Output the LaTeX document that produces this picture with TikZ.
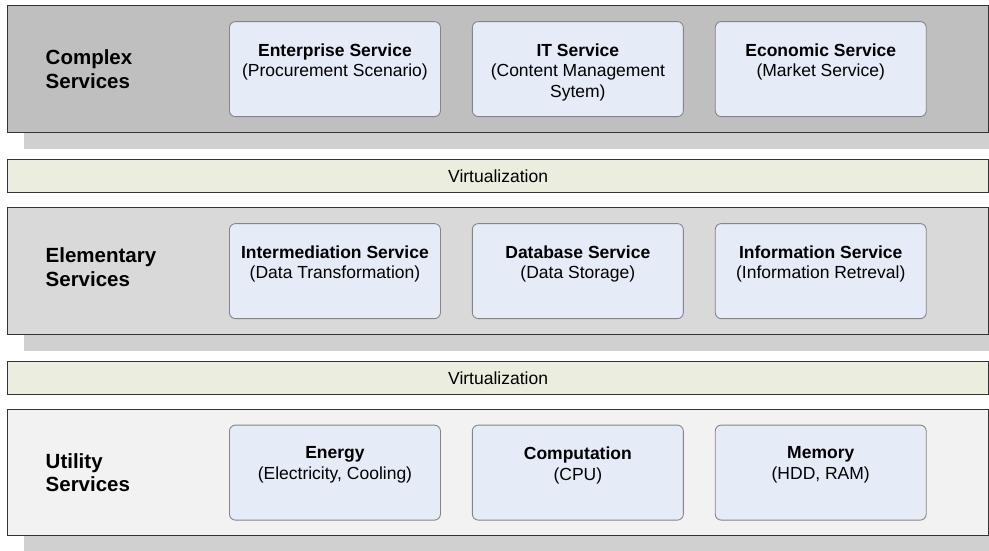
\documentclass[tikz,border=0pt]{standalone}
\usepackage{fontspec}
\setmainfont{Liberation Sans}
\usepackage{tikz}
\usetikzlibrary{positioning,shadows}
\definecolor{cplxgray}{HTML}{BFBFBF}
\definecolor{elemgray}{HTML}{D9D9D9}
\definecolor{utilgray}{HTML}{F2F2F2}
\definecolor{shadegray}{HTML}{D0D0D0}
\definecolor{svcblue}{HTML}{E5EBF7}
\definecolor{virtgreen}{HTML}{EBEDDE}
\definecolor{edge}{HTML}{333333}
\definecolor{svcedge}{HTML}{858585}
\tikzset{
  tier/.style    = {rectangle, draw=edge, line width=1.2pt, minimum width=981pt,
                    minimum height=127pt, inner sep=0pt,
                    drop shadow={shadow xshift=16pt, shadow yshift=-16pt,
                                 fill=shadegray, opacity=1}},
  tierlbl/.style = {align=left, inner sep=0pt, font=\fontsize{20.5}{23.5}\selectfont\bfseries},
  virt/.style    = {rectangle, draw=edge, line width=1.2pt, fill=virtgreen,
                    minimum width=981pt, minimum height=33pt, inner sep=0pt,
                    font=\fontsize{17.5}{20}\selectfont},
  svc/.style     = {rectangle, rounded corners=6pt, draw=svcedge, line width=0.9pt,
                    fill=svcblue, minimum width=211pt, minimum height=95pt, inner sep=0pt},
  svctxt/.style  = {align=center, inner sep=0pt, font=\fontsize{17.5}{20.5}\selectfont},
}

\begin{document}
\begin{tikzpicture}[x=1pt, y=1pt, node distance=31pt]
  \useasboundingbox (0,0) rectangle (989,-550);

  % Complex services (top)
  \node[tier, fill=cplxgray, anchor=north west] (cplx) at (7,-5) {};
  \node[tierlbl, anchor=west] (cplxlbl) at ([xshift=38.5pt]cplx.west) {Complex\\Services};
  \node[svc, right=222pt of cplx.west] (ent) {};
  \node[svc, right=of ent] (its) {};
  \node[svc, right=of its] (eco) {};
  \node[svctxt, below=22pt of ent.north] (enttxt) {\textbf{Enterprise Service}\\(Procurement Scenario)};
  \node[svctxt, below=22pt of its.north] (itstxt) {\textbf{IT Service}\\(Content Management\\Sytem)};
  \node[svctxt, below=22pt of eco.north] (ecotxt) {\textbf{Economic Service}\\(Market Service)};

  \node[virt, below=25.8pt of cplx] (virtA) {Virtualization};

  % Elementary services (middle)
  \node[tier, fill=elemgray, below=13.8pt of virtA] (elem) {};
  \node[tierlbl, anchor=west] (elemlbl) at ([xshift=38.5pt, yshift=4pt]elem.west) {Elementary\\Services};
  \node[svc, right=222pt of elem.west] (imd) {};
  \node[svc, right=of imd] (dbs) {};
  \node[svc, right=of dbs] (inf) {};
  \node[svctxt, below=22pt of imd.north] (imdtxt) {\textbf{Intermediation Service}\\(Data Transformation)};
  \node[svctxt, below=22pt of dbs.north] (dbstxt) {\textbf{Database Service}\\(Data Storage)};
  \node[svctxt, below=22pt of inf.north] (inftxt) {\textbf{Information Service}\\(Information Retreval)};

  \node[virt, below=25.8pt of elem] (virtB) {Virtualization};

  % Utility services (bottom)
  \node[tier, fill=utilgray, minimum height=126pt, below=13.8pt of virtB] (util) {};
  \node[tierlbl, anchor=west] (utillbl) at ([xshift=38.5pt]util.west) {Utility\\Services};
  \node[svc, right=222pt of util.west] (nrg) {};
  \node[svc, right=of nrg] (cpu) {};
  \node[svc, right=of cpu] (mem) {};
  \node[svctxt, below=22pt of nrg.north] (nrgtxt) {\textbf{Energy}\\(Electricity, Cooling)};
  \node[svctxt, below=22pt of cpu.north] (cputxt) {\textbf{Computation}\\(CPU)};
  \node[svctxt, below=22pt of mem.north] (memtxt) {\textbf{Memory}\\(HDD, RAM)};
\end{tikzpicture}
\end{document}
